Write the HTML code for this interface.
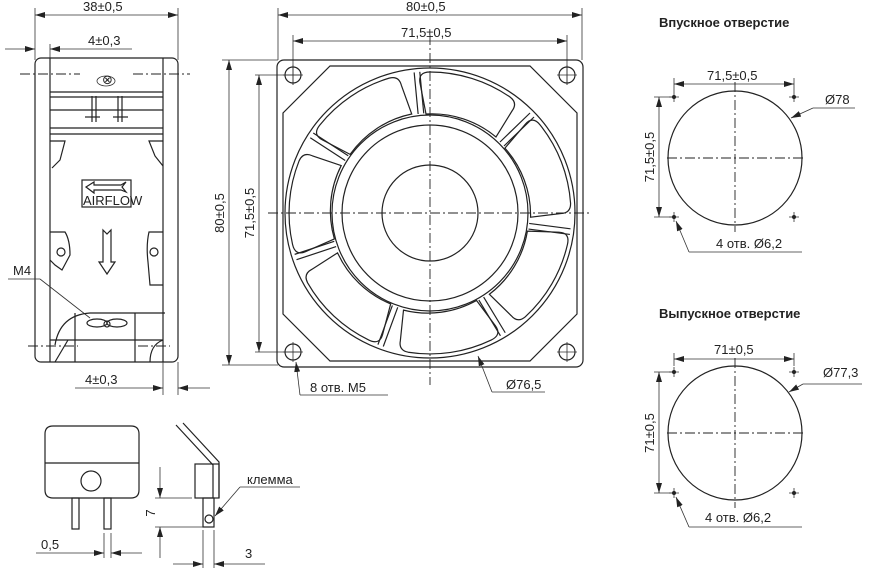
<!DOCTYPE html>
<html><head><meta charset="utf-8"><style>
html,body{margin:0;padding:0;background:#fff;width:869px;height:573px;overflow:hidden}
svg{display:block}
text{font-family:"Liberation Sans","DejaVu Sans",sans-serif;fill:#222;font-size:13px}
.l{stroke:#222;stroke-width:1.2;fill:none}
.t{stroke:#333;stroke-width:0.8;fill:none}
.c{stroke:#222;stroke-width:0.9;fill:none;stroke-dasharray:10 3 2 3}
</style></head><body>
<svg width="869" height="573" viewBox="0 0 869 573" xmlns="http://www.w3.org/2000/svg">
<defs>
<marker id="a" markerWidth="10" markerHeight="6" refX="10" refY="3" orient="auto-start-reverse" markerUnits="userSpaceOnUse"><path d="M0,0 L10,3 L0,6 z" fill="#222"/></marker>
<g id="blade">
<path class="l" d="M-4,-99 L-10,-130 Q-12,-141 0,-141 A141,141 0 0 1 80,-116 Q88,-110 82,-102 L66,-76 A100,100 0 0 0 -4,-99 Z"/>
<path class="l" d="M70,-71 L100,-100 M74,-67 L104,-96"/>
</g>
</defs>

<!-- SIDE VIEW -->
<g>
<line class="t" x1="35" y1="8" x2="35" y2="60"/><line class="t" x1="178" y1="8" x2="178" y2="60"/>
<line class="t" x1="35" y1="15" x2="178" y2="15" marker-start="url(#a)" marker-end="url(#a)"/>
<text x="83" y="11">38±0,5</text>
<line class="t" x1="50" y1="44" x2="50" y2="60"/>
<line class="t" x1="5" y1="49" x2="35" y2="49" marker-end="url(#a)"/>
<line class="t" x1="132" y1="49" x2="50" y2="49" marker-end="url(#a)"/>
<text x="88" y="45">4±0,3</text>
<rect class="l" x="35" y="58" width="143" height="304" rx="6"/>
<line class="l" x1="50" y1="58" x2="50" y2="362"/><line class="l" x1="163" y1="58" x2="163" y2="362"/>
<line class="c" x1="20" y1="74" x2="80" y2="74"/><line class="c" x1="133" y1="74" x2="190" y2="74"/>
<ellipse class="t" cx="106" cy="81" rx="9" ry="5"/><text x="102" y="84" font-size="7">⊗</text>
<line class="l" x1="50" y1="92" x2="163" y2="92"/><line class="l" x1="50" y1="97" x2="163" y2="97"/>
<line class="l" x1="50" y1="110" x2="163" y2="110"/>
<line class="l" x1="50" y1="128" x2="163" y2="128"/><line class="l" x1="50" y1="134" x2="163" y2="134"/>
<line class="l" x1="92" y1="96" x2="92" y2="122"/><line class="l" x1="96" y1="96" x2="96" y2="122"/>
<line class="l" x1="118" y1="96" x2="118" y2="122"/><line class="l" x1="122" y1="96" x2="122" y2="122"/>
<line class="l" x1="85" y1="117" x2="100" y2="117"/><line class="l" x1="113" y1="117" x2="128" y2="117"/>
<path class="l" d="M50,141 L65,141 L60,160 L52,168"/><path class="l" d="M163,141 L149,141 L155,156 L163,166"/>
<rect class="l" x="82" y="180" width="49" height="27"/>
<path class="l" d="M86,187 L94,182 L94,185 L121,185 L126,182 L122,187 L126,192 L121,190 L94,190 L94,193 Z"/>
<text x="83" y="205" font-size="9">AIRFLOW</text>
<path class="l" d="M103,230 L107,234 L111,230 L111,262 L115,262 L107,274 L99,262 L103,262 Z"/>
<path class="l" d="M50,232 L65,232 Q70,240 70,255 L62,270 L55,265 L50,260"/><circle class="l" cx="61" cy="252" r="4"/>
<path class="l" d="M163,232 L149,232 Q146,245 148,262 L150,285 L163,285"/><circle class="l" cx="154" cy="252" r="4"/>
<line class="t" x1="8" y1="279" x2="40" y2="279"/><line class="t" x1="40" y1="279" x2="90" y2="318"/>
<text x="13" y="275">M4</text>
<ellipse class="l" cx="97" cy="323" rx="10" ry="4"/><ellipse class="l" cx="117" cy="323" rx="10" ry="4"/><circle class="l" cx="107" cy="324" r="3"/>
<path class="l" d="M55,345 Q60,315 90,313 L165,313"/><line class="l" x1="75" y1="313" x2="75" y2="362"/><line class="l" x1="135" y1="313" x2="135" y2="362"/>
<line class="l" x1="50" y1="340" x2="163" y2="340"/>
<line class="c" x1="28" y1="346" x2="78" y2="346"/><line class="c" x1="138" y1="346" x2="170" y2="346"/>
<path class="l" d="M150,362 Q150,345 163,340"/><path class="l" d="M55,362 L68,340"/>
<line class="t" x1="163" y1="362" x2="163" y2="395"/><line class="t" x1="178" y1="362" x2="178" y2="395"/>
<line class="t" x1="75" y1="388" x2="163" y2="388" marker-end="url(#a)"/>
<line class="t" x1="210" y1="388" x2="178" y2="388" marker-end="url(#a)"/>
<text x="85" y="384">4±0,3</text>
</g>

<!-- FRONT VIEW -->
<g>
<line class="t" x1="278" y1="8" x2="278" y2="60"/><line class="t" x1="582" y1="8" x2="582" y2="60"/>
<line class="t" x1="278" y1="15" x2="582" y2="15" marker-start="url(#a)" marker-end="url(#a)"/>
<text x="406" y="11">80±0,5</text>
<line class="t" x1="293" y1="35" x2="293" y2="85"/><line class="t" x1="567" y1="35" x2="567" y2="85"/>
<line class="t" x1="293" y1="41" x2="567" y2="41" marker-start="url(#a)" marker-end="url(#a)"/>
<text x="401" y="37">71,5±0,5</text>
<line class="t" x1="222" y1="60" x2="278" y2="60"/><line class="t" x1="222" y1="365" x2="278" y2="365"/>
<line class="t" x1="229" y1="60" x2="229" y2="365" marker-start="url(#a)" marker-end="url(#a)"/>
<text transform="translate(224,213) rotate(-90)" text-anchor="middle">80±0,5</text>
<line class="t" x1="255" y1="75" x2="300" y2="75"/><line class="t" x1="255" y1="352" x2="300" y2="352"/>
<line class="t" x1="259" y1="75" x2="259" y2="352" marker-start="url(#a)" marker-end="url(#a)"/>
<text transform="translate(254,213) rotate(-90)" text-anchor="middle">71,5±0,5</text>
<rect class="l" x="277" y="60" width="306" height="307" rx="7"/>
<path class="l" d="M330,66 L530,66 L577,113 L577,314 L530,361 L330,361 L283,314 L283,113 Z"/>
<circle class="l" cx="430" cy="213" r="145"/>
<g transform="translate(430,213)">
<use href="#blade"/><use href="#blade" transform="rotate(51.43)"/><use href="#blade" transform="rotate(102.86)"/><use href="#blade" transform="rotate(154.29)"/><use href="#blade" transform="rotate(205.71)"/><use href="#blade" transform="rotate(257.14)"/><use href="#blade" transform="rotate(308.57)"/>
</g>
<circle class="l" cx="430" cy="213" r="98" style="fill:#fff"/>
<circle class="l" cx="430" cy="213" r="88"/>
<circle class="l" cx="430" cy="213" r="48"/>
<g class="l">
<circle cx="293" cy="75" r="8"/><circle cx="567" cy="75" r="8"/><circle cx="293" cy="352" r="8"/><circle cx="567" cy="352" r="8"/>
</g>
<g class="t"><path d="M283,75 H303 M293,65 V85 M557,75 H577 M567,65 V85 M283,352 H303 M293,342 V362 M557,352 H577 M567,342 V362"/></g>
<line class="c" x1="430" y1="35" x2="430" y2="385"/>
<line class="c" x1="268" y1="213" x2="592" y2="213"/>
<line class="t" x1="300" y1="395" x2="296" y2="362" marker-end="url(#a)"/>
<line class="t" x1="300" y1="395" x2="388" y2="395"/>
<text x="310" y="392">8 отв. М5</text>
<line class="t" x1="492" y1="392" x2="478" y2="356" marker-end="url(#a)"/>
<line class="t" x1="492" y1="392" x2="545" y2="392"/>
<text x="506" y="389">Ø76,5</text>
</g>

<!-- INLET -->
<g>
<text x="659" y="27" font-weight="bold" font-size="13">Впускное отверстие</text>
<line class="t" x1="674" y1="78" x2="674" y2="92"/><line class="t" x1="794" y1="78" x2="794" y2="92"/>
<line class="t" x1="674" y1="84" x2="794" y2="84" marker-start="url(#a)" marker-end="url(#a)"/>
<text x="707" y="80">71,5±0,5</text>
<line class="t" x1="654" y1="97" x2="674" y2="97"/><line class="t" x1="654" y1="217" x2="674" y2="217"/>
<line class="t" x1="659" y1="97" x2="659" y2="217" marker-start="url(#a)" marker-end="url(#a)"/>
<text transform="translate(654,157) rotate(-90)" text-anchor="middle">71,5±0,5</text>
<circle class="l" cx="735" cy="158" r="67"/>
<line class="c" x1="735" y1="82" x2="735" y2="232"/><line class="c" x1="667" y1="158" x2="805" y2="158"/>
<g class="t"><path d="M669,97 H679 M674,92 V102 M789,97 H799 M794,92 V102 M669,217 H679 M674,212 V222 M789,217 H799 M794,212 V222"/></g>
<g fill="#222"><circle cx="674" cy="97" r="2"/><circle cx="794" cy="97" r="2"/><circle cx="674" cy="217" r="2"/><circle cx="794" cy="217" r="2"/></g>
<line class="t" x1="813" y1="108" x2="791" y2="118" marker-end="url(#a)"/><line class="t" x1="813" y1="108" x2="855" y2="108"/>
<text x="825" y="104">Ø78</text>
<line class="t" x1="689" y1="252" x2="676" y2="221" marker-end="url(#a)"/><line class="t" x1="689" y1="252" x2="802" y2="252"/>
<text x="716" y="248">4 отв. Ø6,2</text>
</g>

<!-- OUTLET -->
<g>
<text x="659" y="318" font-weight="bold" font-size="13">Выпускное отверстие</text>
<line class="t" x1="674" y1="353" x2="674" y2="366"/><line class="t" x1="794" y1="353" x2="794" y2="366"/>
<line class="t" x1="674" y1="359" x2="794" y2="359" marker-start="url(#a)" marker-end="url(#a)"/>
<text x="714" y="354">71±0,5</text>
<line class="t" x1="654" y1="372" x2="674" y2="372"/><line class="t" x1="654" y1="493" x2="674" y2="493"/>
<line class="t" x1="659" y1="372" x2="659" y2="493" marker-start="url(#a)" marker-end="url(#a)"/>
<text transform="translate(654,433) rotate(-90)" text-anchor="middle">71±0,5</text>
<circle class="l" cx="735" cy="433" r="67"/>
<line class="c" x1="735" y1="358" x2="735" y2="508"/><line class="c" x1="667" y1="433" x2="805" y2="433"/>
<g class="t"><path d="M669,372 H679 M674,367 V377 M789,372 H799 M794,367 V377 M669,493 H679 M674,488 V498 M789,493 H799 M794,488 V498"/></g>
<g fill="#222"><circle cx="674" cy="372" r="2"/><circle cx="794" cy="372" r="2"/><circle cx="674" cy="493" r="2"/><circle cx="794" cy="493" r="2"/></g>
<line class="t" x1="803" y1="384" x2="789" y2="392" marker-end="url(#a)"/><line class="t" x1="803" y1="384" x2="862" y2="384"/>
<text x="823" y="377">Ø77,3</text>
<line class="t" x1="689" y1="527" x2="676" y2="497" marker-end="url(#a)"/><line class="t" x1="689" y1="527" x2="802" y2="527"/>
<text x="705" y="522">4 отв. Ø6,2</text>
</g>

<!-- TERMINAL -->
<g>
<path class="l" d="M53,426 H131 Q139,426 139,434 V490 Q139,498 131,498 H53 Q45,498 45,490 V434 Q45,426 53,426 Z"/>
<line class="l" x1="45" y1="463" x2="139" y2="463"/>
<circle class="l" cx="91" cy="481" r="10"/>
<rect class="l" x="72" y="498" width="7" height="31"/><rect class="l" x="104" y="498" width="7" height="31"/>
<line class="t" x1="104" y1="533" x2="104" y2="558"/><line class="t" x1="111" y1="533" x2="111" y2="558"/>
<line class="t" x1="36" y1="553" x2="104" y2="553" marker-end="url(#a)"/>
<line class="t" x1="142" y1="553" x2="111" y2="553" marker-end="url(#a)"/>
<text x="41" y="549">0,5</text>
<path class="l" d="M176,425 L213,465 L213,498 M183,423 L219,462 L219,498"/>
<rect class="l" x="195" y="464" width="24" height="34"/>
<rect class="l" x="203" y="498" width="11" height="29"/>
<circle class="l" cx="209" cy="519" r="4"/>
<line class="t" x1="155" y1="498" x2="192" y2="498"/><line class="t" x1="155" y1="527" x2="203" y2="527"/>
<line class="t" x1="160" y1="467" x2="160" y2="498" marker-end="url(#a)"/>
<line class="t" x1="160" y1="558" x2="160" y2="527" marker-end="url(#a)"/>
<text transform="translate(155,513) rotate(-90)" text-anchor="middle">7</text>
<line class="t" x1="203" y1="530" x2="203" y2="568"/><line class="t" x1="214" y1="530" x2="214" y2="568"/>
<line class="t" x1="173" y1="564" x2="203" y2="564" marker-end="url(#a)"/>
<line class="t" x1="265" y1="564" x2="214" y2="564" marker-end="url(#a)"/>
<text x="245" y="558">3</text>
<line class="t" x1="240" y1="487" x2="300" y2="487"/><line class="t" x1="240" y1="487" x2="215" y2="516" marker-end="url(#a)"/>
<text x="247" y="484">клемма</text>
</g>
</svg>
</body></html>
